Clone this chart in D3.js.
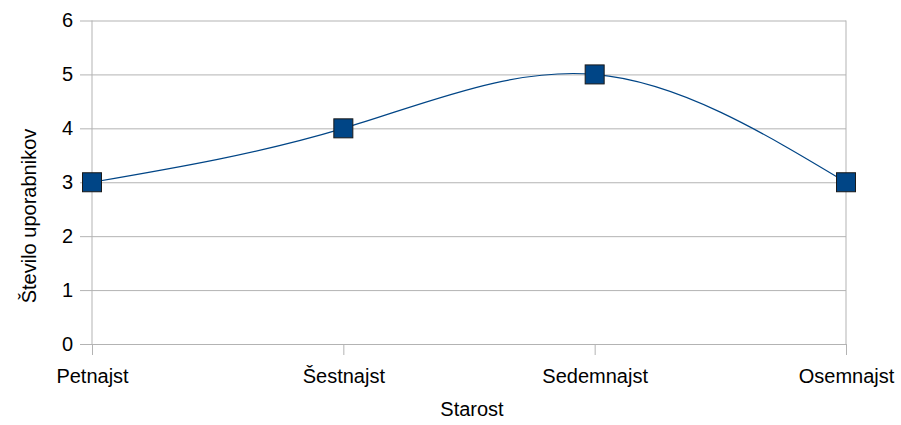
<!DOCTYPE html>
<html><head><meta charset="utf-8">
<script src="https://cdn.jsdelivr.net/npm/d3@7"></script>
<style>body{margin:0;background:#fff}svg{display:block}text{font-family:"Liberation Sans",Arial,sans-serif;fill:#000}</style>
</head><body>
<script>
const categories = ["Petnajst", "Šestnajst", "Sedemnajst", "Osemnajst"];
const values = [3, 4, 5, 3];
const yTicks = [0, 1, 2, 3, 4, 5, 6];
const xTitle = "Starost";
const yTitle = "Število uporabnikov";

const W = 901, H = 425;
const L = 92, R = 846, T = 20.5, B = 344;
const svg = d3.select("body").append("svg").attr("width", W).attr("height", H);
const x = d3.scalePoint().domain(categories).range([L, R]);
const y = d3.scaleLinear().domain([0, 6]).range([B, T]);
const grid = "#b3b3b3";
const fs = 20;

// horizontal gridlines + y ticks
const yAxis = d3.axisLeft(y).tickValues(yTicks).tickFormat(d3.format("d")).tickSize(12).tickPadding(7).tickSizeOuter(0);
const gy = svg.append("g").attr("transform", `translate(${L},0)`).call(yAxis);
gy.select(".domain").remove();
gy.selectAll(".tick line").attr("x2", R - L).attr("x1", -12).attr("stroke", grid);
gy.selectAll(".tick text").attr("font-size", fs).attr("font-family", "Liberation Sans, Arial, sans-serif").attr("fill", "#000").attr("x", -19);

// x axis ticks
const xAxis = d3.axisBottom(x).tickSize(11).tickPadding(14).tickSizeOuter(0);
const gx = svg.append("g").attr("transform", `translate(0,${B})`).call(xAxis);
gx.select(".domain").remove();
gx.selectAll(".tick line").attr("stroke", grid);
gx.selectAll(".tick text").attr("font-size", fs).attr("font-family", "Liberation Sans, Arial, sans-serif").attr("fill", "#000");

// vertical borders
svg.append("line").attr("x1", L).attr("x2", L).attr("y1", T).attr("y2", B).attr("stroke", grid);
svg.append("line").attr("x1", R).attr("x2", R).attr("y1", T).attr("y2", B).attr("stroke", grid);

// line
const pts = categories.map((c, i) => [x(c), y(values[i])]);
svg.append("path").attr("d", d3.line().curve(d3.curveNatural)(pts))
  .attr("fill", "none").attr("stroke", "#004586").attr("stroke-width", 1.2);

// markers
const s = 19;
svg.selectAll("rect.m").data(pts).join("rect").attr("class", "m")
  .attr("x", d => d[0] - s / 2).attr("y", d => d[1] - s / 2)
  .attr("width", s).attr("height", s)
  .attr("fill", "#004586").attr("stroke", "#1a1a1a").attr("stroke-width", 1);

// titles
svg.append("text").attr("x", (L + R) / 2 + 3).attr("y", 416).attr("text-anchor", "middle")
  .attr("font-size", fs).text(xTitle);
svg.append("text").attr("transform", "translate(36,216) rotate(-90)").attr("text-anchor", "middle")
  .attr("font-size", fs).text(yTitle);
</script>
</body></html>
